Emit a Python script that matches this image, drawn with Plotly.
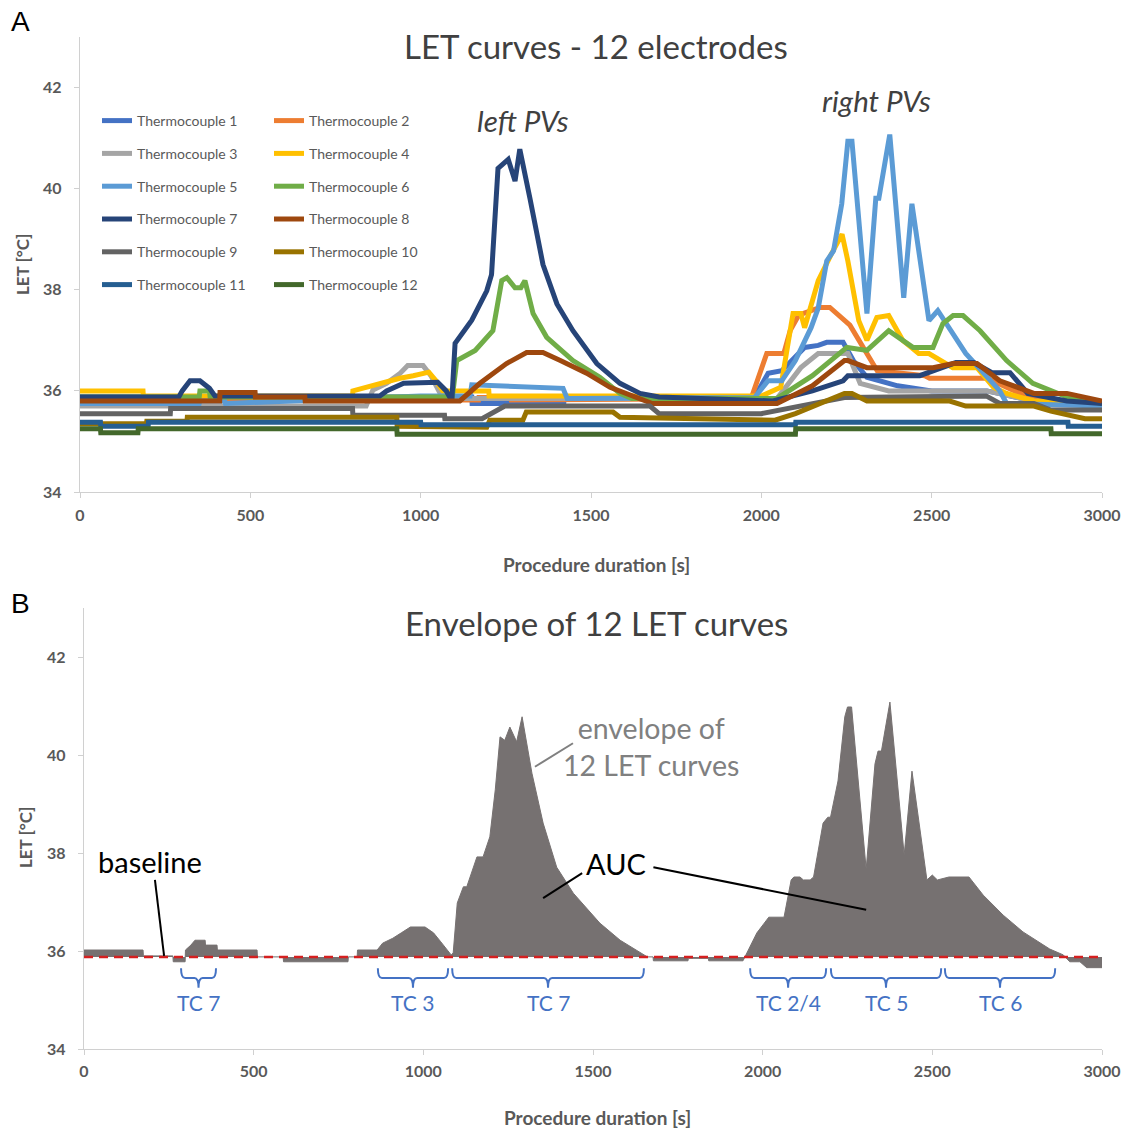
import plotly.graph_objects as go

FONT = "Lato"

# ---------------- Panel A data (time [s], LET [degC]) ----------------
tc_names = [f"Thermocouple {i}" for i in range(1, 13)]
tc_colors = ["#4472C4", "#ED7D31", "#A5A5A5", "#FFC000", "#5B9BD5", "#70AD47",
             "#264478", "#9E480E", "#636363", "#997300", "#255E91", "#43682B"]

tc1_t = [0, 1150, 1151, 1420, 1421, 1980, 2020, 2060, 2127, 2167, 2192, 2240, 2270, 2310, 2400, 2500, 2662, 2800, 3000]
tc1_v = [35.88, 35.88, 35.75, 35.75, 35.88, 35.88, 36.35, 36.4, 36.86, 36.9, 36.96, 36.96, 36.6, 36.27, 36.1, 36.0, 36.0, 35.8, 35.75]

tc2_t = [0, 1170, 1171, 1265, 1266, 1970, 2016, 2066, 2085, 2110, 2172, 2201, 2260, 2304, 2340, 2480, 2494, 2662, 2760, 2850, 3000]
tc2_v = [35.82, 35.82, 35.87, 35.87, 35.82, 35.85, 36.74, 36.74, 37.2, 37.5, 37.65, 37.65, 37.3, 36.8, 36.4, 36.3, 36.25, 36.25, 35.95, 35.8, 35.75]

tc3_t = [0, 840, 860, 900, 940, 962, 1007, 1030, 1057, 1090, 2046, 2116, 2167, 2254, 2290, 2374, 2662, 2800, 3000]
tc3_v = [35.7, 35.7, 36.02, 36.15, 36.35, 36.5, 36.5, 36.3, 35.95, 35.85, 35.85, 36.46, 36.74, 36.74, 36.15, 36.0, 36.0, 35.8, 35.7]

tc4_t = [0, 185, 186, 800, 801, 880, 939, 978, 1024, 1045, 1065, 1200, 1201, 2000, 2057, 2093, 2116, 2127, 2167, 2205, 2237, 2254, 2286, 2310, 2339, 2374, 2415, 2462, 2492, 2562, 2633, 2682, 2720, 2800, 3000]
tc4_v = [36.0, 36.0, 35.9, 35.9, 36.0, 36.15, 36.25, 36.3, 36.37, 36.2, 36.0, 36.0, 35.9, 35.9, 36.07, 37.53, 37.53, 37.25, 38.18, 38.7, 39.1, 38.57, 37.39, 37.0, 37.45, 37.49, 37.0, 36.74, 36.74, 36.46, 36.46, 36.07, 35.95, 35.8, 35.75]

tc5_t = [0, 350, 352, 425, 427, 1000, 1145, 1150, 1418, 1430, 1980, 2020, 2060, 2100, 2146, 2167, 2192, 2212, 2236, 2254, 2266, 2310, 2336, 2345, 2377, 2418, 2442, 2492, 2518, 2600, 2700, 2720, 3000]
tc5_v = [35.75, 35.75, 35.8, 35.8, 35.75, 35.9, 35.9, 36.12, 36.05, 35.85, 35.87, 36.2, 36.2, 36.6, 37.25, 37.64, 38.57, 38.77, 39.7, 40.94, 40.94, 37.53, 39.81, 39.81, 41.07, 37.84, 39.7, 37.39, 37.59, 36.74, 36.0, 35.75, 35.7]

tc6_t = [0, 350, 352, 380, 382, 1093, 1106, 1160, 1212, 1238, 1253, 1277, 1294, 1306, 1330, 1370, 1447, 1526, 1585, 1620, 2046, 2150, 2251, 2310, 2374, 2445, 2504, 2533, 2563, 2592, 2642, 2720, 2797, 2897, 3000]
tc6_v = [35.88, 35.88, 36.0, 36.0, 35.88, 35.88, 36.6, 36.8, 37.19, 38.18, 38.24, 38.04, 38.04, 38.18, 37.53, 37.06, 36.6, 36.27, 35.95, 35.85, 35.85, 36.3, 36.86, 36.8, 37.19, 36.86, 36.86, 37.33, 37.49, 37.49, 37.19, 36.6, 36.15, 35.88, 35.75]

tc7_t = [0, 290, 300, 323, 352, 380, 396, 880, 900, 950, 1050, 1075, 1086, 1092, 1101, 1150, 1194, 1208, 1227, 1257, 1277, 1291, 1321, 1359, 1400, 1447, 1517, 1585, 1644, 1700, 2034, 2150, 2240, 2254, 2465, 2571, 2624, 2677, 2730, 2782, 2897, 3000]
tc7_v = [35.88, 35.88, 36.0, 36.2, 36.2, 36.05, 35.9, 35.9, 36.0, 36.15, 36.17, 36.0, 35.87, 35.87, 36.94, 37.4, 37.98, 38.3, 40.4, 40.58, 40.15, 40.78, 39.8, 38.5, 37.72, 37.19, 36.54, 36.15, 35.95, 35.88, 35.8, 36.0, 36.2, 36.3, 36.3, 36.56, 36.56, 36.36, 36.36, 35.95, 35.8, 35.75]

tc8_t = [0, 410, 411, 514, 515, 660, 661, 1115, 1174, 1252, 1311, 1359, 1410, 1487, 1556, 1634, 1680, 2046, 2150, 2244, 2254, 2310, 2504, 2563, 2633, 2700, 2800, 2897, 3000]
tc8_v = [35.8, 35.8, 35.97, 35.97, 35.88, 35.88, 35.8, 35.8, 36.15, 36.54, 36.76, 36.76, 36.6, 36.35, 36.07, 35.88, 35.75, 35.75, 36.1, 36.6, 36.6, 36.46, 36.46, 36.54, 36.54, 36.2, 35.95, 35.95, 35.8]

tc9_t = [0, 265, 266, 800, 801, 1070, 1071, 1180, 1247, 1673, 1700, 2000, 2244, 2660, 2700, 2800, 2850, 3000]
tc9_v = [35.55, 35.55, 35.65, 35.65, 35.52, 35.52, 35.45, 35.45, 35.7, 35.7, 35.55, 35.55, 35.87, 35.9, 35.75, 35.75, 35.62, 35.62]

tc10_t = [0, 195, 196, 314, 315, 930, 931, 1085, 1194, 1203, 1300, 1310, 1565, 1585, 2040, 2100, 2244, 2266, 2310, 2553, 2600, 2800, 2850, 2950, 3000]
tc10_v = [35.35, 35.35, 35.4, 35.4, 35.48, 35.48, 35.3, 35.28, 35.28, 35.42, 35.42, 35.58, 35.58, 35.48, 35.42, 35.55, 35.95, 35.95, 35.8, 35.8, 35.7, 35.7, 35.6, 35.45, 35.45]

tc11_t = [0, 60, 61, 200, 201, 1000, 1001, 2100, 2101, 2900, 2901, 3000]
tc11_v = [35.38, 35.38, 35.3, 35.3, 35.38, 35.38, 35.33, 35.33, 35.38, 35.38, 35.3, 35.3]

tc12_t = [0, 60, 61, 170, 171, 930, 931, 2100, 2101, 2850, 2851, 3000]
tc12_v = [35.25, 35.25, 35.17, 35.17, 35.25, 35.25, 35.14, 35.14, 35.25, 35.25, 35.15, 35.15]

tc_times = [tc1_t, tc2_t, tc3_t, tc4_t, tc5_t, tc6_t, tc7_t, tc8_t, tc9_t, tc10_t, tc11_t, tc12_t]
tc_values = [tc1_v, tc2_v, tc3_v, tc4_v, tc5_v, tc6_v, tc7_v, tc8_v, tc9_v, tc10_v, tc11_v, tc12_v]

# ---------------- Panel B data ----------------
env_t = [0, 174, 175, 262, 263, 298, 299, 315, 327, 357, 358, 392, 393, 510, 511, 587, 588, 778, 779, 805, 806, 864,
         880, 910, 935, 962, 1005, 1030, 1050, 1070, 1082, 1088, 1100, 1118, 1128, 1158, 1176, 1196, 1212, 1226, 1240,
         1255, 1275, 1291, 1320, 1353, 1393, 1442, 1520, 1580, 1639, 1660, 1677, 1678, 1780, 1781, 1840, 1841, 1942,
         1954, 1983, 2018, 2063, 2084, 2092, 2110, 2120, 2140, 2150, 2178, 2192, 2200, 2222, 2242, 2250, 2262, 2305,
         2331, 2340, 2350, 2375, 2417, 2440, 2484, 2500, 2515, 2549, 2608, 2650, 2709, 2767, 2846, 2886, 2905, 2935,
         2955, 3000]
env_v = [36.02, 36.02, 35.9, 35.9, 35.78, 35.78, 36.02, 36.12, 36.22, 36.22, 36.12, 36.12, 36.02, 36.02, 35.88, 35.88,
         35.78, 35.78, 35.88, 35.88, 36.02, 36.02, 36.16, 36.26, 36.37, 36.49, 36.49, 36.37, 36.2, 36.02, 35.92, 35.96,
         36.98, 37.31, 37.31, 37.92, 37.92, 38.33, 39.29, 40.37, 40.3, 40.57, 40.27, 40.78, 39.63, 38.61, 37.71, 37.18,
         36.57, 36.22, 35.98, 35.88, 35.88, 35.8, 35.8, 35.85, 35.85, 35.8, 35.8, 35.96, 36.37, 36.69, 36.69, 37.45,
         37.51, 37.51, 37.45, 37.45, 37.51, 38.61, 38.73, 38.73, 39.47, 40.78, 40.98, 40.98, 37.67, 39.82, 40.08, 40.08,
         41.08, 37.96, 39.67, 37.45, 37.55, 37.45, 37.51, 37.51, 37.14, 36.73, 36.39, 36.04, 35.92, 35.78, 35.78,
         35.66, 35.66]
baseline_value = 35.88
baseline_t = [0, 3000]

tc_bracket_labels = ["TC 7", "TC 3", "TC 7", "TC 2/4", "TC 5", "TC 6"]
tc_bracket_start = [286, 866, 1085, 1963, 2201, 2537]
tc_bracket_end = [389, 1073, 1650, 2187, 2526, 2862]

x_ticks = [0, 500, 1000, 1500, 2000, 2500, 3000]
y_ticks = [34, 36, 38, 40, 42]

W, H = 1124, 1128


def fx(px):
    return px / W


def fy(py):
    return 1 - py / H


# ---------------- Figure ----------------
fig = go.Figure()

for i, (name, col, t, v) in enumerate(zip(tc_names, tc_colors, tc_times, tc_values)):
    fig.add_trace(go.Scatter(
        x=t, y=v, mode="lines", name=name, line=dict(color=col, width=5),
        xaxis="x", yaxis="y", legend="legend" if i % 2 == 0 else "legend2",
        legendgroup=f"g{i}", showlegend=True))

fig.add_trace(go.Scatter(x=baseline_t, y=[baseline_value] * len(baseline_t), mode="lines",
                         line=dict(width=0, color="rgba(0,0,0,0)"), xaxis="x2", yaxis="y2", showlegend=False))
fig.add_trace(go.Scatter(x=env_t, y=env_v, mode="lines", fill="tonexty", fillcolor="#767171",
                         line=dict(color="#767171", width=1), xaxis="x2", yaxis="y2", showlegend=False))
fig.add_trace(go.Scatter(x=baseline_t, y=[baseline_value] * len(baseline_t), mode="lines",
                         line=dict(color="#D42020", width=2.5, dash="9px,6px"), xaxis="x2", yaxis="y2",
                         showlegend=False))

axis_common = dict(showgrid=False, zeroline=False, showline=True, linecolor="#D0D0D0", linewidth=1.3,
                   ticks="outside", ticklen=5, tickcolor="#D0D0D0", automargin=False,
                   tickfont=dict(family=FONT, size=16, color="#595959", weight="bold"))

legend_common = dict(xanchor="left", yanchor="top", bgcolor="rgba(0,0,0,0)",
                     font=dict(family=FONT, size=14, color="#595959"), tracegroupgap=11.6, itemwidth=30)

fig.update_layout(
    width=W, height=H, margin=dict(l=0, r=0, t=0, b=0, autoexpand=False),
    paper_bgcolor="white", plot_bgcolor="white", showlegend=True,
    xaxis=dict(domain=[fx(80), fx(1102)], range=[0, 3000], tickvals=x_ticks, anchor="y",
               ticklabelstandoff=4, **axis_common),
    yaxis=dict(domain=[fy(492), fy(37)], range=[34, 43], tickvals=y_ticks, anchor="x",
               ticklabelstandoff=9, **axis_common),
    xaxis2=dict(domain=[fx(84), fx(1102)], range=[0, 3000], tickvals=x_ticks, anchor="y2",
                ticklabelstandoff=3, **axis_common),
    yaxis2=dict(domain=[fy(1049), fy(608)], range=[34, 43], tickvals=y_ticks, anchor="x2",
                ticklabelstandoff=9, **axis_common),
    legend=dict(x=fx(97), y=fy(105), **legend_common),
    legend2=dict(x=fx(269), y=fy(105), **legend_common),
)


def pa(px, py, text, size, color="#404040", family=FONT, **kw):
    fig.add_annotation(x=fx(px), y=fy(py), xref="paper", yref="paper", text=text, showarrow=False,
                       font=dict(family=family, size=size, color=color), xanchor="center", yanchor="middle", **kw)


pa(20, 22, "A", 28, "#000000", "Liberation Sans")
pa(20, 603, "B", 28, "#000000", "Liberation Sans")
pa(596, 46, "LET curves - 12 electrodes", 33, "#404040")
pa(596, 623, "Envelope of 12 LET curves", 33, "#404040")
pa(596, 564, "<b>Procedure duration [s]</b>", 19, "#595959")
pa(597, 1117, "<b>Procedure duration [s]</b>", 19, "#595959")
pa(22, 265, "<b>LET [°C]</b>", 17, "#595959", textangle=-90)
pa(25, 838, "<b>LET [°C]</b>", 17, "#595959", textangle=-90)

fig.add_annotation(x=1300, y=41.35, xref="x", yref="y", text="<i>left PVs</i>", showarrow=False,
                   font=dict(family=FONT, size=29.5, color="#404040"))
fig.add_annotation(x=2339, y=41.74, xref="x", yref="y", text="<i>right PVs</i>", showarrow=False,
                   font=dict(family=FONT, size=29.5, color="#404040"))

fig.add_annotation(x=195, y=37.82, xref="x2", yref="y2", text="baseline", showarrow=False,
                   font=dict(family=FONT, size=29, color="#000000"))
fig.add_annotation(x=1568, y=37.78, xref="x2", yref="y2", text="AUC", showarrow=False,
                   font=dict(family=FONT, size=29, color="#000000"))
fig.add_annotation(x=1671, y=40.18, xref="x2", yref="y2", text="envelope of<br>12 LET curves", showarrow=False,
                   font=dict(family=FONT, size=28.5, color="#808080"), align="center")

line_segs = [
    (209, 37.45, 236, 35.9, "#000000"),
    (1353, 37.08, 1468, 37.59, "#000000"),
    (1678, 37.71, 2305, 36.84, "#000000"),
    (1329, 39.76, 1441, 40.24, "#808080"),
]
for x0, y0, x1, y1, c in line_segs:
    fig.add_shape(type="line", x0=x0, y0=y0, x1=x1, y1=y1, xref="x2", yref="y2",
                  line=dict(color=c, width=2))

y_top, y_mid, y_tip = 35.65, 35.45, 35.25
for lab, s0, s1 in zip(tc_bracket_labels, tc_bracket_start, tc_bracket_end):
    c = (s0 + s1) / 2
    d = 12
    path = (f"M {s0},{y_top} Q {s0},{y_mid} {s0 + d},{y_mid} L {c - d},{y_mid} Q {c},{y_mid} {c},{y_tip} "
            f"Q {c},{y_mid} {c + d},{y_mid} L {s1 - d},{y_mid} Q {s1},{y_mid} {s1},{y_top}")
    fig.add_shape(type="path", path=path, xref="x2", yref="y2", line=dict(color="#4472C4", width=2))
    fig.add_annotation(x=c, y=34.94, xref="x2", yref="y2", text=lab, showarrow=False,
                       font=dict(family=FONT, size=21, color="#4472C4"))

fig.write_html("out.html")
